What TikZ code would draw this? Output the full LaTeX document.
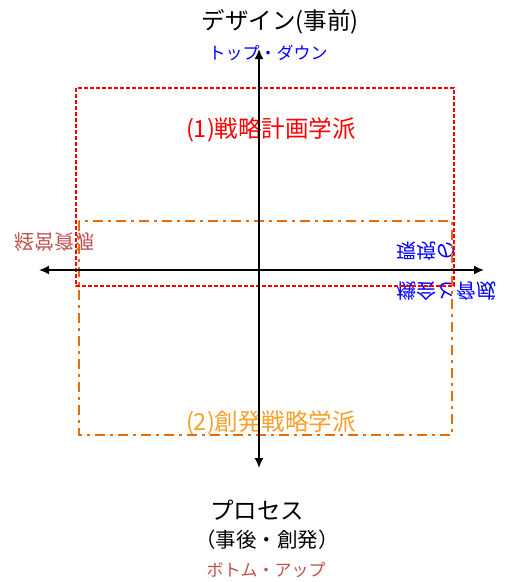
\documentclass[tikz,border=0pt]{standalone}
\usepackage{fontspec}
\newfontfamily\cjk{Noto Sans CJK JP}
\usetikzlibrary{arrows.meta}
\definecolor{myred}{RGB}{255,0,0}
\definecolor{myblue}{RGB}{0,0,255}
\definecolor{myorange}{RGB}{228,108,10}
\definecolor{lightorange}{RGB}{247,160,40}
\definecolor{brick}{RGB}{192,80,77}
\begin{document}
\begin{tikzpicture}[x=1pt,y=-1pt,
  every node/.style={inner sep=0pt},
  lab/.style={font=\cjk\fontsize{23.5}{28}\selectfont},
  sub/.style={font=\cjk\fontsize{17}{20}\selectfont},
  side/.style={font=\cjk\fontsize{20}{24}\selectfont, yscale=-1, transform shape},
  axis/.style={line width=1.6pt, {Latex[length=10pt,width=9pt]}-{Latex[length=10pt,width=9pt]}},
  redbox/.style={draw=myred, line width=1.3pt, dash pattern=on 4pt off 2pt},
  orangebox/.style={draw=myorange, line width=2.5pt, dash pattern=on 10pt off 5pt on 3pt off 5pt}]
\useasboundingbox (0,0) rectangle (507,582);
% texts
\node[lab] (design) at (280,22) {デザイン(事前)};
\node[sub, text=myblue] (topdown) at (268,53) {トップ・ダウン};
\node[lab, text=myred] (school1) at (271,130) {(1)戦略計画学派};
\node[lab, text=lightorange] (school2) at (271,423) {(2)創発戦略学派};
\node[lab] (process) at (257,510) {プロセス};
\node[lab, font=\cjk\fontsize{20.5}{24}\selectfont] (post) at (267,540) {（事後・創発）};
\node[sub, text=brick] (bottomup) at (266,570) {ボトム・アップ};
\node[side, text=brick] (resources) at (55,242) {経営資源};
\node[side, text=myblue] (env1) at (426,251) {環境の};
\node[side, text=myblue] (env2) at (446,291) {機会と脅威};
% boxes
\draw[redbox] (76,88) rectangle (454,286);
\draw[orangebox] (79,221) rectangle (452,435);
% axes
\coordinate (top) at (259,49);
\coordinate (bottom) at (259,468);
\coordinate (left) at (39,270);
\coordinate (right) at (484,270);
\draw[axis] (top) -- (bottom);
\draw[axis] (left) -- (right);
\end{tikzpicture}
\end{document}
